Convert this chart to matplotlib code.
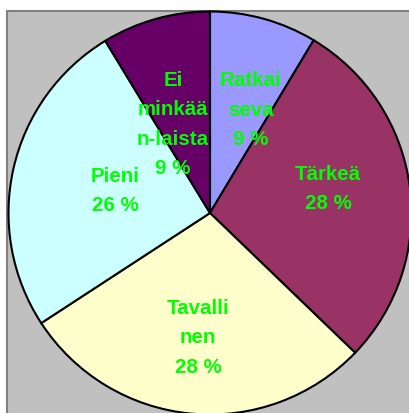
import numpy as np
import matplotlib
matplotlib.use('Agg')
import matplotlib.pyplot as plt
from matplotlib.patches import Rectangle

# Slice data (clockwise from 12 o'clock), shares
categories = ['Ratkaiseva', 'Tärkeä', 'Tavallinen', 'Pieni', 'Ei minkäänlaista']
shares = [8.6, 28.6, 28.6, 25.5, 8.7]
# Percent labels as printed on the chart
pct_labels = ['9 %', '28 %', '28 %', '26 %', '9 %']
# Labels as wrapped in the original chart
label_lines = [['Ratkai', 'seva'], ['Tärkeä'], ['Tavalli', 'nen'], ['Pieni'], ['Ei', 'minkää', 'n-laista']]
colors = ['#9999FF', '#993366', '#FFFFCC', '#CCFFFF', '#660066']

# label distance from center (fraction of radius) and angle nudge (deg) per slice
label_radius = [0.554, 0.599, 0.618, 0.485, 0.481]
label_nudge = [-6.0, 4.4, 0.0, -0.8, 6.8]

W, H = 409, 414
cx, cy, r = 210, 214, 201.5

fig = plt.figure(figsize=(W / 100, H / 100), dpi=100)
fig.patch.set_facecolor('white')

# Gray plot area with border on top/left (rest runs off the image)
fig.patches.append(Rectangle((7 / W, -0.1), 1.2, (H - 12) / H + 0.1,
                             transform=fig.transFigure, facecolor='#C0C0C0',
                             edgecolor='#808080', linewidth=1.5, zorder=-5))

ax = fig.add_axes([0, 0, 1, 1], zorder=1)
ax.set_facecolor('none')

wedges, _ = ax.pie(shares, colors=colors, startangle=90, counterclock=False,
                   radius=1.0, center=(0, 0), frame=True,
                   wedgeprops=dict(edgecolor='black', linewidth=1.5))
ax.set_xlim(-cx / r, (W - cx) / r)
ax.set_ylim(-(H - cy) / r, cy / r)
ax.set_aspect('auto')
ax.axis('off')

for w, lines, pct, lr, nudge in zip(wedges, label_lines, pct_labels, label_radius, label_nudge):
    mid = np.deg2rad((w.theta1 + w.theta2) / 2 + nudge)
    x, y = lr * np.cos(mid), lr * np.sin(mid)
    text = '\n'.join(lines + [pct])
    ax.text(x, y, text, ha='center', va='center', color='#00FF00',
            fontsize=14.8, fontweight='bold', family='Liberation Sans',
            linespacing=1.7)

fig.savefig('out.png', dpi=100)
